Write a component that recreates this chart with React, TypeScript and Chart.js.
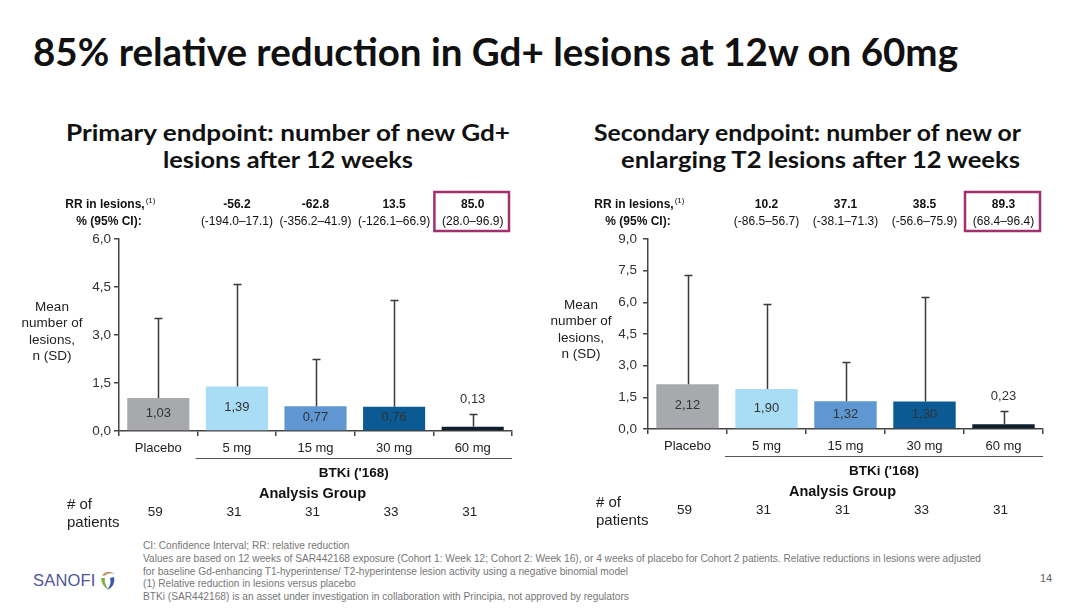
import React, { useEffect, useLayoutEffect, useRef } from "react";
import { Chart, registerables } from "chart.js";

Chart.register(...registerables);

const FONT = "'Liberation Sans', Arial, Helvetica, sans-serif";
const HEAD = "Lato, 'Noto Sans', sans-serif";

// ---------- data ----------
const categories = ["Placebo", "5 mg", "15 mg", "30 mg", "60 mg"];
const patients = [59, 31, 31, 33, 31];
const barColors = ["#A7A9AC", "#A9DDF6", "#5E97D1", "#0B5A93", "#0E1E2C"];

// Primary endpoint: new Gd+ lesions
const gdMeans = [1.03, 1.39, 0.77, 0.76, 0.13];
const gdSD = [2.5, 3.21, 1.47, 3.32, 0.41];
const gdRR = ["", "-56.2", "-62.8", "13.5", "85.0"];
const gdCI = ["", "(-194.0–17.1)", "(-356.2–41.9)", "(-126.1–66.9)", "(28.0–96.9)"];
const gdMax = 6;

// Secondary endpoint: new or enlarging T2 lesions
const t2Means = [2.12, 1.9, 1.32, 1.3, 0.23];
const t2SD = [5.19, 4.01, 1.84, 4.93, 0.63];
const t2RR = ["", "10.2", "37.1", "38.5", "89.3"];
const t2CI = ["", "(-86.5–56.7)", "(-38.1–71.3)", "(-56.6–75.9)", "(68.4–96.4)"];
const t2Max = 9;

const tickStep = 1.5;
const highlightIndex = 4;

const footnotes = [
  "CI: Confidence Interval; RR: relative reduction",
  "Values are based on 12 weeks of SAR442168 exposure (Cohort 1: Week 12; Cohort 2: Week 16), or 4 weeks of placebo for Cohort 2 patients. Relative reductions in lesions were adjusted",
  "for baseline Gd-enhancing T1-hyperintense/ T2-hyperintense lesion activity using a negative binomial model",
  "(1) Relative reduction in lesions versus placebo",
  "BTKi (SAR442168) is an asset under investigation in collaboration with Principia, not approved by regulators",
];

const comma = (v: number, d: number) => v.toFixed(d).replace(".", ",");

function makeOverlay(means: number[], sd: number[], rr: string[], ci: string[]) {
  return {
    id: "overlay",
    afterDraw(chart: any) {
      const { ctx, chartArea: a, scales } = chart;
      const x = scales.x;
      const y = scales.y;
      const n = categories.length;
      const catW = (a.right - a.left) / n;
      const base = y.getPixelForValue(0);
      ctx.save();

      // error bars (upper SD)
      ctx.strokeStyle = "#3a3a3a";
      ctx.lineWidth = 1.5;
      means.forEach((m, i) => {
        const cx = Math.round(x.getPixelForValue(i)) + 0.5;
        const yBar = y.getPixelForValue(m);
        const yTop = Math.round(y.getPixelForValue(m + sd[i])) + 0.5;
        ctx.beginPath();
        ctx.moveTo(cx, yBar);
        ctx.lineTo(cx, yTop);
        ctx.moveTo(cx - 4, yTop);
        ctx.lineTo(cx + 4, yTop);
        ctx.stroke();
      });

      // value labels
      ctx.font = `13px ${FONT}`;
      ctx.fillStyle = "#333";
      ctx.textAlign = "center";
      ctx.textBaseline = "middle";
      means.forEach((m, i) => {
        const cx = x.getPixelForValue(i);
        const yBar = y.getPixelForValue(m);
        const txt = comma(m, 2);
        if (base - yBar > 18) ctx.fillText(txt, cx, (yBar + base) / 2 - 1);
        else ctx.fillText(txt, cx, y.getPixelForValue(m + sd[i]) - 14);
      });

      // RR header
      ctx.fillStyle = "#111";
      ctx.font = `bold 12px ${FONT}`;
      ctx.textAlign = "center";
      const hx = a.left - 14;
      ctx.fillText("RR in lesions,", hx, a.top - 34);
      const hw = ctx.measureText("RR in lesions,").width;
      ctx.font = `8px ${FONT}`;
      ctx.textAlign = "left";
      ctx.fillText("(1)", hx + hw / 2 + 1, a.top - 38);
      ctx.font = `bold 12px ${FONT}`;
      ctx.textAlign = "center";
      ctx.fillText("% (95% CI):", a.left - 10, a.top - 17);

      // RR values
      rr.forEach((v, i) => {
        if (!v) return;
        const cx = x.getPixelForValue(i);
        ctx.font = `bold 12px ${FONT}`;
        ctx.fillText(v, cx, a.top - 34);
        ctx.font = `12px ${FONT}`;
        ctx.fillText(ci[i], cx, a.top - 17);
      });

      // highlight box
      const hcx = x.getPixelForValue(highlightIndex);
      ctx.strokeStyle = "#A2306F";
      ctx.lineWidth = 2.5;
      ctx.strokeRect(hcx - catW / 2 + 1, a.top - 47, catW - 4, 39);

      // y title
      ctx.fillStyle = "#222";
      ctx.font = `13.5px ${FONT}`;
      ["Mean", "number of", "lesions,", "n (SD)"].forEach((t, k) => {
        ctx.fillText(t, a.left - 67, a.bottom - 124 + k * 16.5);
      });

      // bracket line + BTKi
      const bx0 = x.getPixelForValue(1) - catW / 2 - 2;
      ctx.strokeStyle = "#555";
      ctx.lineWidth = 1;
      ctx.beginPath();
      ctx.moveTo(bx0, Math.round(a.bottom + 27) + 0.5);
      ctx.lineTo(a.right, Math.round(a.bottom + 27) + 0.5);
      ctx.stroke();
      ctx.fillStyle = "#111";
      ctx.font = `bold 13.5px ${FONT}`;
      ctx.fillText("BTKi ('168)", (bx0 + a.right) / 2, a.bottom + 42);
      ctx.font = `bold 14.5px ${FONT}`;
      ctx.fillText("Analysis Group", (a.left + a.right) / 2 - 3, a.bottom + 63);

      // patients
      ctx.font = `15px ${FONT}`;
      ctx.textAlign = "left";
      ctx.fillStyle = "#222";
      ctx.fillText("# of", a.left - 52, a.bottom + 74);
      ctx.fillText("patients", a.left - 52, a.bottom + 92);
      ctx.textAlign = "center";
      ctx.font = `13.5px ${FONT}`;
      patients.forEach((p, i) => {
        ctx.fillText(String(p), x.getPixelForValue(i) - 3, a.bottom + 81);
      });

      ctx.restore();
    },
  };
}

type ChartProps = {
  left: number;
  means: number[];
  sd: number[];
  rr: string[];
  ci: string[];
  yMax: number;
  yWidth: number;
  padRight: number;
  xHeight: number;
  yPad: number;
};

function EndpointChart(p: ChartProps) {
  const ref = useRef<HTMLCanvasElement>(null);
  useEffect(() => {
    const chart = new Chart(ref.current as HTMLCanvasElement, {
      type: "bar",
      data: {
        labels: categories,
        datasets: [
          {
            data: p.means,
            backgroundColor: barColors,
            barPercentage: 0.79,
            categoryPercentage: 1,
            borderWidth: 0,
          },
        ],
      },
      options: {
        responsive: false,
        animation: false,
        devicePixelRatio: 1,
        layout: { padding: { left: 0, right: p.padRight, top: 59, bottom: 0 } },
        plugins: {
          legend: { display: false },
          tooltip: { enabled: false },
          title: { display: false },
        },
        scales: {
          x: {
            grid: { display: true, drawOnChartArea: false, tickLength: 5, color: "#444", lineWidth: 1.5, offset: true },
            border: { color: "#444", width: 1.5 },
            ticks: { color: "#222", font: { family: FONT, size: 13 }, padding: 5 },
            afterFit: (s: any) => {
              s.height = p.xHeight;
            },
          },
          y: {
            min: 0,
            max: p.yMax,
            ticks: {
              stepSize: tickStep,
              color: "#333",
              font: { family: FONT, size: 13.5 },
              padding: p.yPad,
              callback: (v: any) => comma(Number(v), 1),
            },
            grid: { drawOnChartArea: false, tickLength: 5, color: "#444", lineWidth: 1.5 },
            border: { color: "#444", width: 1.5 },
            afterFit: (s: any) => {
              s.width = p.yWidth;
            },
          },
        },
      } as any,
      plugins: [makeOverlay(p.means, p.sd, p.rr, p.ci)],
    });
    return () => chart.destroy();
  }, []);
  return (
    <canvas
      ref={ref}
      width={540}
      height={350}
      style={{ position: "absolute", left: p.left, top: 180, width: 540, height: 350 }}
    />
  );
}

function FitText(props: { text: string; left: number; top: number; width: number; style: React.CSSProperties }) {
  const ref = useRef<HTMLSpanElement>(null);
  useLayoutEffect(() => {
    const el = ref.current;
    if (!el) return;
    el.style.transform = "none";
    const w = el.getBoundingClientRect().width;
    if (w > 0) el.style.transform = `scaleX(${props.width / w})`;
  }, [props.text, props.width]);
  return (
    <span
      ref={ref}
      style={{
        position: "absolute",
        left: props.left,
        top: props.top,
        whiteSpace: "nowrap",
        transformOrigin: "left top",
        lineHeight: 1,
        ...props.style,
      }}
    >
      {props.text}
    </span>
  );
}

function measure(text: string, font: string) {
  const c = document.createElement("canvas");
  const ctx = c.getContext("2d") as CanvasRenderingContext2D;
  ctx.font = font;
  return ctx.measureText(text).width;
}

export default function App() {
  const titleStyle: React.CSSProperties = { fontFamily: HEAD, fontWeight: 700, fontSize: 39, color: "#111" };
  const subStyle: React.CSSProperties = { fontFamily: HEAD, fontWeight: 700, fontSize: 23, color: "#111" };
  const footStyle: React.CSSProperties = { fontFamily: FONT, fontSize: 10, color: "#777" };
  const footScale = 838 / measure(footnotes[1], `10px ${FONT}`);
  return (
    <div
      style={{
        position: "absolute",
        left: 0,
        top: 0,
        width: 1080,
        height: 608,
        background: "#fff",
        overflow: "hidden",
      }}
    >
      <FitText text="85% relative reduction in Gd+ lesions at 12w on 60mg" left={33} top={32} width={925} style={titleStyle} />
      <FitText text="Primary endpoint: number of new Gd+" left={66} top={121} width={444} style={subStyle} />
      <FitText text="lesions after 12 weeks" left={163} top={148} width={250} style={subStyle} />
      <FitText text="Secondary endpoint: number of new or" left={594} top={121} width={427} style={subStyle} />
      <FitText text="enlarging T2 lesions after 12 weeks" left={621} top={148} width={399} style={subStyle} />

      <EndpointChart left={0} means={gdMeans} sd={gdSD} rr={gdRR} ci={gdCI} yMax={gdMax} yWidth={119} padRight={28} xHeight={99} yPad={3} />
      <EndpointChart left={540} means={t2Means} sd={t2SD} rr={t2RR} ci={t2CI} yMax={t2Max} yWidth={108} padRight={37} xHeight={101} yPad={6} />

      {footnotes.map((t, i) => (
        <span
          key={i}
          style={{
            position: "absolute",
            left: 143,
            top: 541 + i * 12.8,
            whiteSpace: "nowrap",
            lineHeight: 1,
            transformOrigin: "left top",
            transform: `scaleX(${footScale})`,
            ...footStyle,
          }}
        >
          {t}
        </span>
      ))}
      <span style={{ position: "absolute", left: 1040, top: 572, fontFamily: FONT, fontSize: 11, color: "#666" }}>14</span>

      <span
        style={{
          position: "absolute",
          left: 33,
          top: 572,
          fontFamily: FONT,
          fontSize: 16.5,
          letterSpacing: 0.2,
          color: "#4F5597",
          lineHeight: 1,
        }}
      >
        SANOFI
      </span>
      <svg style={{ position: "absolute", left: 99, top: 569 }} width={18} height={22} viewBox="0 0 18 22">
        <path d="M3 6 Q9 0 16 5 Q10 3 5 7 Z" fill="#B8946A" />
        <path d="M2 9 Q3 18 9 20 Q5 14 6 9 Z" fill="#7DB04A" />
        <path d="M15 8 Q17 17 8 21 Q13 15 11 9 Z" fill="#3C5AA8" />
      </svg>
    </div>
  );
}
